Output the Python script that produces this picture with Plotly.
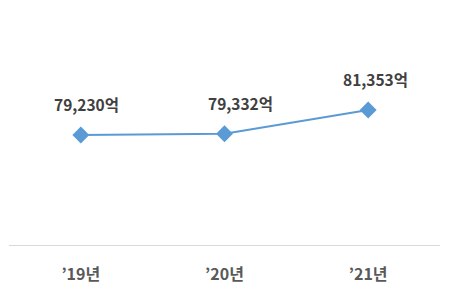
import plotly.graph_objects as go

categories = ["’19년", "’20년", "’21년"]
values = [79230, 79332, 81353]
labels = ["79,230억", "79,332억", "81,353억"]

label_xshift = [6, 16, 7]  # label placement offsets (style)

fig = go.Figure()
fig.add_trace(go.Scatter(
    x=categories, y=values, mode="lines+markers",
    line=dict(color="#5B9BD5", width=2),
    marker=dict(symbol="diamond", size=13, color="#5B9BD5"),
    hoverinfo="skip", showlegend=False,
))
for c, v, t, dx in zip(categories, values, labels, label_xshift):
    fig.add_annotation(x=c, y=v, text=f"<b>{t}</b>", showarrow=False, yshift=31, xshift=dx,
                       font=dict(family="Noto Sans CJK KR", size=15.5, color="#404040"))

fig.update_layout(
    width=451, height=293, margin=dict(l=9, r=11, t=10, b=48),
    paper_bgcolor="white", plot_bgcolor="white",
    font=dict(family="Noto Sans CJK KR", size=14, color="#595959"),
    xaxis=dict(range=[-0.5, 2.5], showline=True, linecolor="#D9D9D9", linewidth=1, showgrid=False,
               ticks="outside", ticklen=15, tickcolor="rgba(0,0,0,0)",
               tickfont=dict(family="Noto Sans CJK KR", size=16, color="#595959", weight="bold"),
               zeroline=False, fixedrange=True),
    yaxis=dict(range=[69890, 89843], visible=False, showgrid=False, zeroline=False),
)
fig.write_html("out.html")
